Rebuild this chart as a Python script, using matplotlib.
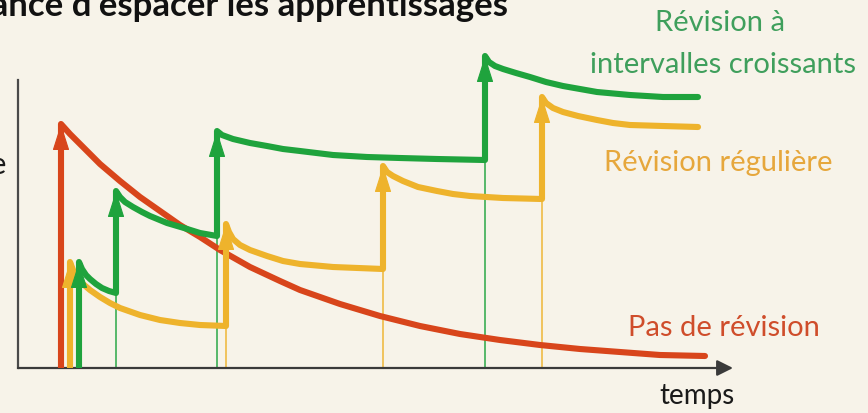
import matplotlib.pyplot as plt

# memory curves (time in arbitrary units, retention in arbitrary units)
# each sub-list is one decay phase, starting at the peak reached after a review
none_x = [43, 52, 62, 72, 82, 102, 122, 142, 162, 182, 202, 232, 262, 282, 322,
          362, 402, 442, 482, 522, 562, 602, 642, 687]
none_y = [244, 234, 224, 214, 204, 187, 171, 157, 143, 131, 118, 101, 87, 78,
          64, 52, 42, 34, 28, 23, 19, 16, 13, 12]

regular_x = [[52, 55, 59, 65, 72, 82, 92, 102, 122, 142, 162, 182, 208],
             [208, 211, 215, 222, 232, 249, 265, 282, 315, 340, 365],
             [365, 369, 375, 385, 400, 419, 435, 452, 485, 524],
             [524, 528, 535, 545, 560, 579, 595, 612, 645, 680]]
regular_y = [[106, 98, 91, 84, 78, 71, 65, 60, 53, 48, 45, 43, 42],
             [144, 136, 129, 123, 118, 112, 107, 104, 101, 100, 99],
             [202, 196, 192, 187, 181, 177, 174, 172, 170, 169],
             [271, 265, 260, 256, 252, 248, 245, 243, 242, 241]]

spaced_x = [[61, 64, 68, 72, 78, 84, 91, 98],
            [98, 102, 107, 115, 124, 132, 149, 166, 182, 199],
            [199, 204, 215, 232, 249, 265, 282, 315, 349, 382, 419, 467],
            [467, 471, 477, 485, 498, 512, 528, 545, 562, 579, 612, 645, 680]]
spaced_y = [[106, 99, 93, 89, 84, 80, 77, 75],
            [177, 171, 166, 161, 156, 152, 145, 140, 135, 132],
            [237, 233, 229, 225, 222, 219, 217, 213, 211, 210, 209, 208],
            [312, 306, 302, 299, 295, 291, 286, 282, 279, 276, 273, 271, 271]]

RED = "#d8451b"
YELLOW = "#eeb32c"
GREEN = "#1fa33d"
BG = "#f7f3e9"

plt.rcParams["font.family"] = ["Lato", "DejaVu Sans"]

fig = plt.figure(figsize=(8.68, 4.14), dpi=100, facecolor=BG)
ax = fig.add_axes([18 / 868, 45 / 414, 715 / 868, 330 / 414])
ax.set_facecolor(BG)
ax.set_xlim(0, 715)
ax.set_ylim(0, 330)
ax.set_xticks([])
ax.set_yticks([])
for s in ["top", "right", "bottom"]:
    ax.spines[s].set_visible(False)
ax.spines["left"].set_bounds(0, 288)
ax.spines["left"].set_color("#4a4a4a")
ax.spines["left"].set_linewidth(1.6)

# time axis with arrow
ax.annotate("", xy=(715, 0), xytext=(0, 0), annotation_clip=False,
            arrowprops=dict(arrowstyle="-|>,head_length=0.6,head_width=0.3",
                            mutation_scale=16, color="#3a3a3a", lw=1.6,
                            shrinkA=0, shrinkB=0))


def head(x, y, color):
    ax.annotate("", xy=(x, y), xytext=(x, y - 25), annotation_clip=False,
                arrowprops=dict(arrowstyle="-|>,head_length=0.85,head_width=0.27",
                                mutation_scale=20, color=color, lw=0.8,
                                shrinkA=0, shrinkB=0))


def draw_reviews(seg_x, seg_y, color):
    xs = [seg_x[0][0]]
    ys = [0]
    for i, (sx, sy) in enumerate(zip(seg_x, seg_y)):
        if i > 0:
            # thin guide from the time axis up to where the review starts
            ax.plot([sx[0], sx[0]], [0, seg_y[i - 1][-1]], color=color,
                    lw=1.3, alpha=0.8, zorder=2)
        xs += sx
        ys += sy
        head(sx[0], sy[0], color)
    ax.plot(xs, ys, color=color, lw=4.4, solid_joinstyle="round",
            solid_capstyle="round", zorder=3)


# no review: single forgetting curve
ax.plot([none_x[0]] + none_x, [0] + none_y, color=RED, lw=4.4,
        solid_joinstyle="round", solid_capstyle="round", zorder=3)
head(none_x[0], none_y[0], RED)

draw_reviews(regular_x, regular_y, YELLOW)
draw_reviews(spaced_x, spaced_y, GREEN)

ax.text(702, 346, "Révision à", color="#3f9f5c", fontsize=21,
        ha="center", va="center")
ax.text(705, 304, "intervalles croissants", color="#3f9f5c", fontsize=21,
        ha="center", va="center")
ax.text(700, 206, "Révision régulière", color="#e6a73c", fontsize=21,
        ha="center", va="center")
ax.text(706, 41, "Pas de révision", color="#cf4d2b", fontsize=21,
        ha="center", va="center")
ax.text(679, -27, "temps", color="#1a1a1a", fontsize=20,
        ha="center", va="center")
ax.text(-11, 204, "Mémoire", color="#1a1a1a", fontsize=22,
        ha="right", va="center")

fig.text(508 / 868, 1 - 16 / 414, "L'importance d'espacer les apprentissages",
         fontsize=25, fontweight="bold", color="#111111",
         ha="right", va="baseline")

fig.savefig("out.png", dpi=100, facecolor=BG)
